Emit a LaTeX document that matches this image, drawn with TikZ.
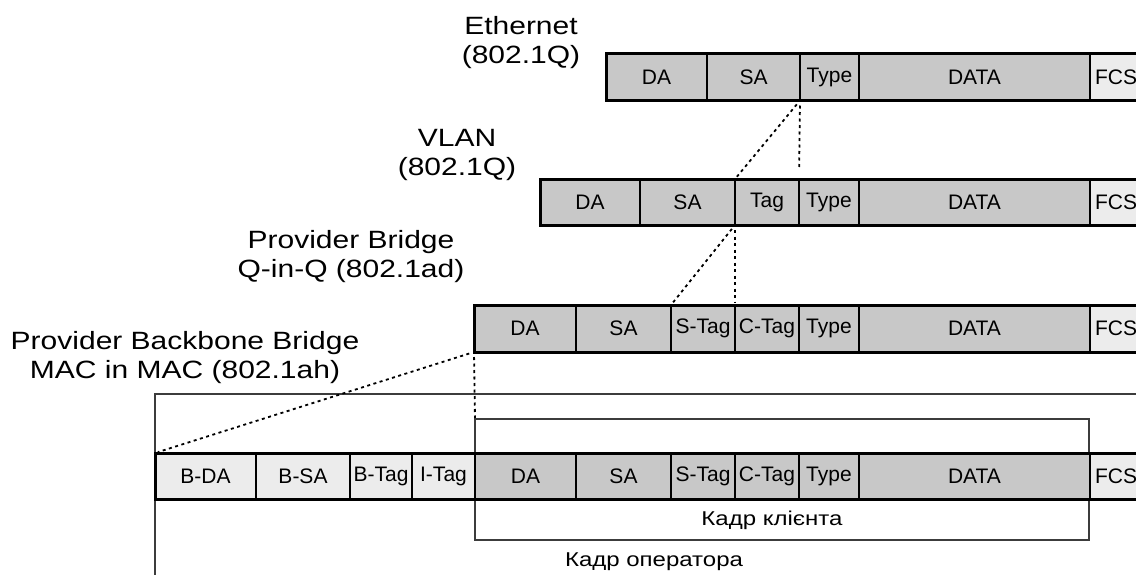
\documentclass[tikz,border=0pt]{standalone}
\usepackage{fontspec}
\usepackage{graphicx}
\setmainfont{Liberation Sans}
\usetikzlibrary{positioning}

\definecolor{cellgray}{RGB}{200,200,200}
\definecolor{cellpale}{RGB}{236,236,236}
\definecolor{framegray}{RGB}{60,60,60}

\newcommand{\wide}[1]{\scalebox{1.2}[1]{#1}}

\tikzset{
  cell/.style={draw, line width=2.2pt, fill=cellgray, inner sep=0pt, outer sep=0pt,
    font=\fontsize{21}{24}\selectfont},
  palecell/.style={cell, fill=cellpale},
  rowline/.style={line width=3pt},
  frame/.style={draw=framegray, line width=1.3pt, inner sep=0pt, outer sep=0pt},
  title/.style={align=center, font=\fontsize{25}{29}\selectfont},
  framelabel/.style={font=\fontsize{20}{24}\selectfont},
  zoomline/.style={line width=1.8pt, dash pattern=on 3pt off 3.5pt, shorten <=5pt, shorten >=3pt}
}

\begin{document}
\begin{tikzpicture}[x=1pt, y=-1pt]
\useasboundingbox (0,0) rectangle (1136,574);
\clip (0,0) rectangle (1136,574);

\node[frame, minimum width=995, minimum height=206] (operator) at (652.5,497) {};
\node[frame, minimum width=614, minimum height=121] (client) at (782,479.5) {};
\node[framelabel] (client-label) at (772,520) {\wide{Кадр клієнта}};
\node[framelabel] (operator-label) at (654,562) {\wide{Кадр оператора}};

\node[title] (eth-title) at (521,43) {\wide{Ethernet}\\\wide{(802.1Q)}};
\node[title] (vlan-title) at (457,155) {\wide{VLAN}\\\wide{(802.1Q)}};
\node[title] (pb-title) at (351,257) {\wide{Provider Bridge}\\\wide{Q-in-Q (802.1ad)}};
\node[title] (pbb-title) at (185,358) {\wide{Provider Backbone Bridge}\\\wide{MAC in MAC (802.1ah)}};

\node[cell, minimum width=101, minimum height=47] (e-da) at (656.5,77) {DA};
\node[cell, minimum width=93, minimum height=47] (e-sa) at (753.5,77) {SA};
\node[cell, minimum width=59, minimum height=47] (e-type) at (829.5,77) {Type};
\node[cell, minimum width=231, minimum height=47] (e-data) at (974.5,77) {DATA};
\node[palecell, minimum width=52, minimum height=47] (e-fcs) at (1116,77) {FCS};
\draw[rowline] (e-da.north west) rectangle (e-fcs.south east);

\node[cell, minimum width=100, minimum height=46] (v-da) at (590,202) {DA};
\node[cell, minimum width=95, minimum height=46] (v-sa) at (687.5,202) {SA};
\node[cell, minimum width=64, minimum height=46] (v-tag) at (767,202) {Tag};
\node[cell, minimum width=60, minimum height=46] (v-type) at (829,202) {Type};
\node[cell, minimum width=231, minimum height=46] (v-data) at (974.5,202) {DATA};
\node[palecell, minimum width=52, minimum height=46] (v-fcs) at (1116,202) {FCS};
\draw[rowline] (v-da.north west) rectangle (v-fcs.south east);

\node[cell, minimum width=102, minimum height=47] (p-da) at (525,328.5) {DA};
\node[cell, minimum width=95, minimum height=47] (p-sa) at (623.5,328.5) {SA};
\node[cell, minimum width=64, minimum height=47] (p-stag) at (703,328.5) {S-Tag};
\node[cell, minimum width=64, minimum height=47] (p-ctag) at (767,328.5) {C-Tag};
\node[cell, minimum width=60, minimum height=47] (p-type) at (829,328.5) {Type};
\node[cell, minimum width=231, minimum height=47] (p-data) at (974.5,328.5) {DATA};
\node[palecell, minimum width=52, minimum height=47] (p-fcs) at (1116,328.5) {FCS};
\draw[rowline] (p-da.north west) rectangle (p-fcs.south east);

\node[palecell, minimum width=101, minimum height=46] (b-bda) at (205.5,476) {B-DA};
\node[palecell, minimum width=94, minimum height=46] (b-bsa) at (303,476) {B-SA};
\node[palecell, minimum width=62, minimum height=46] (b-btag) at (381,476) {B-Tag};
\node[palecell, minimum width=63, minimum height=46] (b-itag) at (443.5,476) {I-Tag};
\node[cell, minimum width=101, minimum height=46] (b-da) at (525.5,476) {DA};
\node[cell, minimum width=95, minimum height=46] (b-sa) at (623.5,476) {SA};
\node[cell, minimum width=64, minimum height=46] (b-stag) at (703,476) {S-Tag};
\node[cell, minimum width=64, minimum height=46] (b-ctag) at (767,476) {C-Tag};
\node[cell, minimum width=60, minimum height=46] (b-type) at (829,476) {Type};
\node[cell, minimum width=231, minimum height=46] (b-data) at (974.5,476) {DATA};
\node[palecell, minimum width=52, minimum height=46] (b-fcs) at (1116,476) {FCS};
\draw[rowline] (b-bda.north west) rectangle (b-fcs.south east);

\draw[zoomline] (e-sa.south east) -- (v-sa.north east);
\draw[zoomline, shorten >=9pt] (e-type.south west) -- (v-type.north west);
\draw[zoomline] (v-sa.south east) -- (p-sa.north east);
\draw[zoomline] (v-tag.south west) -- (p-ctag.north west);
\draw[zoomline] (p-da.south west) -- (b-bda.north west);
\draw[zoomline, shorten >=1pt] (p-da.south west) -- (client.north west);
\end{tikzpicture}
\end{document}
